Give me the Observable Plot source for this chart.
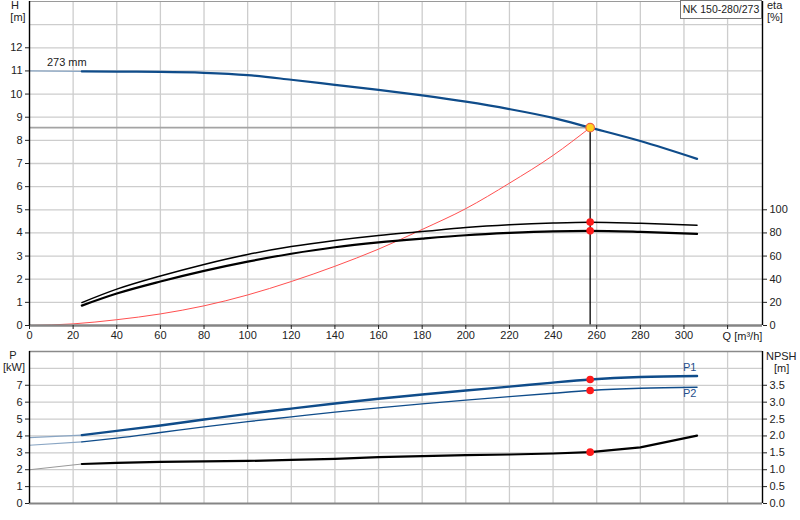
<!DOCTYPE html>
<html><head><meta charset="utf-8">
<script src="https://cdn.jsdelivr.net/npm/d3@7"></script>
<script src="https://cdn.jsdelivr.net/npm/@observablehq/plot@0.6"></script>
<style>
body{margin:0;background:#fff;font-family:"Liberation Sans",Arial,sans-serif;}
#wrap{position:relative;width:800px;height:520px;overflow:hidden;background:#fff;}
#wrap svg{position:absolute;left:0;}
.lbl{position:absolute;font-size:11px;line-height:14px;color:#222;white-space:nowrap;}
.c{transform:translateX(-50%);}
#box{position:absolute;left:680px;top:0px;width:82px;height:19px;border:1px solid #777;background:#fff;font-size:10.5px;line-height:16px;text-align:center;color:#222;box-sizing:border-box;white-space:nowrap;}
</style></head>
<body><div id="wrap"></div>
<script>
// ---- data ----
const qVals   = [0, 24, 40, 60, 80, 100, 120, 140, 160, 180, 200, 220, 240, 257, 280, 306];
const headVals= [11.0, 10.98, 10.97, 10.96, 10.92, 10.82, 10.62, 10.4, 10.18, 9.94, 9.67, 9.35, 8.97, 8.55, 7.97, 7.2];
const p1Vals  = [3.9, 4.05, 4.3, 4.62, 4.97, 5.31, 5.62, 5.92, 6.2, 6.45, 6.69, 6.92, 7.16, 7.34, 7.49, 7.55];
const p2Vals  = [3.45, 3.65, 3.87, 4.2, 4.54, 4.85, 5.13, 5.41, 5.66, 5.9, 6.12, 6.33, 6.53, 6.69, 6.82, 6.88];
const npshVals= [1.0, 1.17, 1.2, 1.23, 1.245, 1.26, 1.29, 1.32, 1.37, 1.4, 1.43, 1.45, 1.48, 1.52, 1.66, 2.01];
const etaQ    = [24, 40, 60, 80, 100, 120, 140, 160, 180, 200, 220, 240, 257, 280, 306];
const etaPump = [19.8, 31.4, 42.8, 52.8, 61.4, 68.2, 73.5, 77.8, 81.2, 84.6, 87.0, 88.6, 89.3, 88.3, 86.6];
const etaTotal= [17.2, 27.6, 38.0, 47.2, 55.2, 62.0, 67.6, 71.8, 75.1, 78.0, 80.0, 81.4, 81.8, 80.9, 79.1];
const sysQ    = [0, 20, 40, 60, 80, 100, 120, 140, 160, 180, 200, 220, 240, 257];
const sysH    = [0, 0.07, 0.25, 0.5, 0.85, 1.32, 1.9, 2.56, 3.3, 4.15, 5.05, 6.15, 7.35, 8.55];
const opQ = 257, opH = 8.55, opEtaPump = 89.5, opEtaTotal = 81.8, opP1 = 7.34, opP2 = 6.69, opNpsh = 1.52;
const xTicks  = [0,20,40,60,80,100,120,140,160,180,200,220,240,260,280,300,320];
const hTicks  = [0,1,2,3,4,5,6,7,8,9,10,11,12];
const etaTicks= [0,20,40,60,80,100];
const pTicks  = [0,1,2,3,4,5,6,7];
const npshTicks=[0.0,0.5,1.0,1.5,2.0,2.5,3.0,3.5];
const impellerLabel = "273 mm";
const pumpName = "NK 150-280/273";
const qLabel = "Q [m³/h]";

// ---- helpers ----
const ETA_PER_H = 20;   // right axis eta = 20 x H units
const NPSH_PER_P = 0.5; // right axis NPSH = 0.5 x kW units
const xMax = 336;
const blue = "#0f4c8a", lightBlue = "#8aa6c4";
const rows = (ys, xs = qVals) => xs.map((q, i) => ({q, v: ys[i]}));
const early = a => a.filter(d => d.q <= 24);
const late = a => a.filter(d => d.q >= 24);
const gridStyle = {stroke:"#cdcdcd", strokeOpacity:1, strokeWidth:1.3};
const font = {fontFamily:"Liberation Sans, Arial, sans-serif", fontSize:"11px", color:"#222", background:"white", overflow:"visible"};

const H = rows(headVals), P1 = rows(p1Vals), P2 = rows(p2Vals), NP = rows(npshVals.map(v => v / NPSH_PER_P));
const E1 = rows(etaPump.map(v => v / ETA_PER_H), etaQ), E2 = rows(etaTotal.map(v => v / ETA_PER_H), etaQ);
const SYS = rows(sysH, sysQ);

const topPlot = Plot.plot({
  width: 800, height: 345, marginLeft: 29, marginRight: 38, marginTop: 1, marginBottom: 20,
  x: {domain: [0, xMax]}, y: {domain: [0, 14]},
  style: font,
  marks: [
    Plot.gridX(xTicks.filter(d => d > 0), gridStyle),
    Plot.gridY([1,2,3,4,5,6,7,8,9,10,11,12,13], gridStyle),
    Plot.ruleY([opH], {x1: 0, x2: opQ, stroke: "#a4a4a4", strokeWidth: 1.8}),
    Plot.ruleX([opQ], {y1: 0, y2: opH, stroke: "#000", strokeWidth: 1.3}),
    Plot.line(SYS, {x: "q", y: "v", stroke: "#ff5050", strokeWidth: 1, curve: "monotone-x"}),
    Plot.line(E1, {x: "q", y: "v", stroke: "#000", strokeWidth: 1.5, curve: "monotone-x"}),
    Plot.line(E2, {x: "q", y: "v", stroke: "#000", strokeWidth: 2.2, curve: "monotone-x"}),
    Plot.line(early(H), {x: "q", y: "v", stroke: lightBlue, strokeWidth: 1.2}),
    Plot.line(late(H), {x: "q", y: "v", stroke: blue, strokeWidth: 2.2, curve: "monotone-x"}),
    Plot.dot([{q: opQ, v: opEtaPump / ETA_PER_H}, {q: opQ, v: opEtaTotal / ETA_PER_H}], {x: "q", y: "v", r: 3.8, fill: "#ff1a1a", stroke: "none"}),
    Plot.dot([{q: opQ, v: opH}], {x: "q", y: "v", r: 4.3, fill: "#ffd21f", stroke: "#f06040", strokeWidth: 1.2}),
    Plot.text([{t: impellerLabel, q: 8, v: 11.38}], {x: "q", y: "v", text: "t", textAnchor: "start", fill: "#222", fontSize: 11}),
    Plot.ruleY([14], {stroke: "#9a9a9a", strokeWidth: 1.2}),
    Plot.ruleY([0], {stroke: "#858585", strokeWidth: 2.5}),
    Plot.ruleX([0], {stroke: "#000", strokeWidth: 1.4}),
    Plot.ruleX([xMax], {stroke: "#000", strokeWidth: 1.4}),
    Plot.axisY(hTicks, {anchor: "left", tickSize: 4, tickPadding: 3, label: null, fill: "#222"}),
    Plot.axisY(etaTicks.map(v => v / ETA_PER_H), {anchor: "right", tickSize: 4, tickPadding: 3, label: null, tickFormat: d => Math.round(d * ETA_PER_H), fill: "#222"}),
    Plot.axisX(xTicks, {anchor: "bottom", tickSize: 4, tickPadding: 2, label: null, fill: "#222", tickFormat: d => d < 320 ? String(d) : ""}),
    Plot.text([{t: qLabel, q: 320, v: 0}], {x: "q", y: "v", text: "t", dx: -5, dy: 11, textAnchor: "start", fill: "#222", fontSize: 11})
  ]
});

const botPlot = Plot.plot({
  width: 800, height: 175, marginLeft: 29, marginRight: 38, marginTop: 6, marginBottom: 17,
  x: {domain: [0, xMax], axis: null}, y: {domain: [0, 9], axis: null},
  style: font,
  marks: [
    Plot.gridX(xTicks.filter(d => d > 0), gridStyle),
    Plot.gridY([1,2,3,4,5,6,7,8], gridStyle),
    Plot.line(early(NP), {x: "q", y: "v", stroke: "#9a9a9a", strokeWidth: 1.2}),
    Plot.line(late(NP), {x: "q", y: "v", stroke: "#000", strokeWidth: 2.2}),
    Plot.line(early(P2), {x: "q", y: "v", stroke: lightBlue, strokeWidth: 1.2}),
    Plot.line(late(P2), {x: "q", y: "v", stroke: blue, strokeWidth: 1.4, curve: "monotone-x"}),
    Plot.line(early(P1), {x: "q", y: "v", stroke: lightBlue, strokeWidth: 1.4}),
    Plot.line(late(P1), {x: "q", y: "v", stroke: blue, strokeWidth: 2.4, curve: "monotone-x"}),
    Plot.dot([{q: opQ, v: opP1}, {q: opQ, v: opP2}, {q: opQ, v: opNpsh / NPSH_PER_P}], {x: "q", y: "v", r: 3.8, fill: "#ff1a1a", stroke: "none"}),
    Plot.text([{t: "P1", q: 302.6, v: 8.05}, {t: "P2", q: 302.6, v: 6.5}], {x: "q", y: "v", text: "t", textAnchor: "middle", fill: "#1f4e8c", fontSize: 11}),
    Plot.ruleY([9], {stroke: "#8a8a8a", strokeWidth: 1.4}),
    Plot.ruleY([0], {stroke: "#858585", strokeWidth: 2.2}),
    Plot.ruleX([0], {stroke: "#000", strokeWidth: 1.4}),
    Plot.ruleX([xMax], {stroke: "#000", strokeWidth: 1.4}),
    Plot.axisY(pTicks, {anchor: "left", tickSize: 4, tickPadding: 3, label: null, fill: "#222"}),
    Plot.axisY(npshTicks.map(v => v / NPSH_PER_P), {anchor: "right", tickSize: 4, tickPadding: 3, label: null, tickFormat: d => (d * NPSH_PER_P).toFixed(1), fill: "#222"})
  ]
});

const wrap = document.getElementById("wrap");
topPlot.style.top = "0px";
botPlot.style.top = "345px";
wrap.appendChild(topPlot);
wrap.appendChild(botPlot);

const labels = [
  {t: "H", x: 15, y: 5, c: true}, {t: "[m]", x: 18, y: 17, c: true},
  {t: "eta", x: 767, y: 5}, {t: "[%]", x: 767, y: 17},
  {t: "P", x: 13, y: 355, c: true}, {t: "[kW]", x: 14, y: 367, c: true},
  {t: "NPSH", x: 766, y: 356}, {t: "[m]", x: 774, y: 368}
];
for (const l of labels) {
  const s = document.createElement("div");
  s.className = "lbl" + (l.c ? " c" : "");
  s.textContent = l.t;
  s.style.left = l.x + "px";
  s.style.top = (l.y - 7) + "px";
  wrap.appendChild(s);
}
const box = document.createElement("div");
box.id = "box";
box.textContent = pumpName;
wrap.appendChild(box);
</script>
</body></html>
